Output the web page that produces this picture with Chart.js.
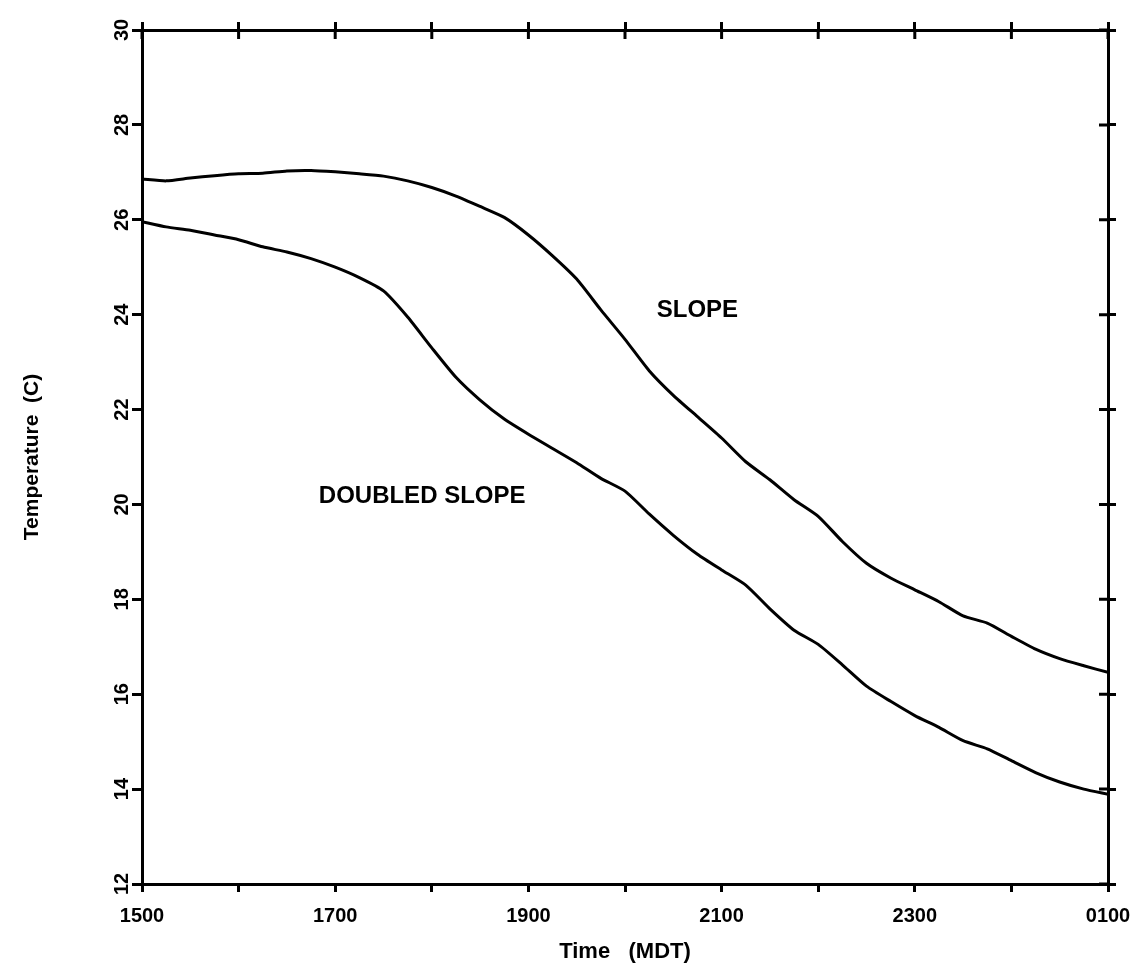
<!DOCTYPE html>
<html>
<head>
<meta charset="utf-8">
<script src="https://cdn.jsdelivr.net/npm/chart.js@4.4.1/dist/chart.umd.min.js"></script>
<style>
  html, body { margin: 0; padding: 0; background: #fff; }
  canvas { display: block; }
</style>
</head>
<body>
<canvas id="tempChart" width="1134" height="975"></canvas>
<script>
// time in hours after midnight of the first day (25 = 0100 next day)
const hours = [15, 15.25, 15.5, 15.75, 16, 16.25, 16.5, 16.75, 17, 17.25, 17.5, 17.75,
  18, 18.25, 18.5, 18.75, 19, 19.25, 19.5, 19.75, 20, 20.25, 20.5, 20.75,
  21, 21.25, 21.5, 21.75, 22, 22.25, 22.5, 22.75, 23, 23.25, 23.5, 23.75,
  24, 24.25, 24.5, 24.75, 25];

const slope = [26.86, 26.82, 26.88, 26.93, 26.97, 26.98, 27.03, 27.04, 27.01, 26.97, 26.92, 26.82,
  26.68, 26.5, 26.28, 26.05, 25.68, 25.24, 24.75, 24.1, 23.48, 22.82, 22.3, 21.85,
  21.4, 20.9, 20.52, 20.1, 19.75, 19.22, 18.76, 18.45, 18.2, 17.95, 17.65, 17.5,
  17.22, 16.95, 16.75, 16.6, 16.46];

const doubledSlope = [25.96, 25.85, 25.78, 25.68, 25.58, 25.43, 25.32, 25.18, 25.0, 24.78, 24.5, 23.95,
  23.3, 22.68, 22.2, 21.8, 21.48, 21.18, 20.88, 20.55, 20.28, 19.8, 19.35, 18.95,
  18.62, 18.3, 17.8, 17.35, 17.05, 16.62, 16.17, 15.85, 15.55, 15.3, 15.02, 14.85,
  14.6, 14.35, 14.15, 14.0, 13.89];

const xTickHours = [15, 17, 19, 21, 23, 25];
const xTickLabels = ['1500', '1700', '1900', '2100', '2300', '0100'];

// curve labels: [text, hour, temperature]
const curveLabels = [
  ['SLOPE', 20.75, 24.08],
  ['DOUBLED SLOPE', 17.9, 20.17],
];

const FONT = "'Liberation Sans', Arial, sans-serif";

function pts(ys) {
  return hours.map(function (h, i) { return { x: h, y: ys[i] }; });
}

// rotated y labels, inward ticks on top/right, curve names
const extras = {
  id: 'extras',
  afterDraw: function (chart) {
    const ctx = chart.ctx;
    const y = chart.scales.y;
    const x2 = chart.scales.x2;
    const y2 = chart.scales.y2;
    const area = chart.chartArea;
    ctx.save();
    ctx.fillStyle = '#000';
    ctx.font = 'bold 20px ' + FONT;
    ctx.textAlign = 'center';
    ctx.textBaseline = 'middle';
    y.ticks.forEach(function (t) {
      const py = y.getPixelForValue(t.value);
      ctx.save();
      ctx.translate(122, py);
      ctx.rotate(-Math.PI / 2);
      ctx.fillText(String(t.value), 0, 0);
      ctx.restore();
    });

    ctx.strokeStyle = '#000';
    ctx.lineWidth = 3;
    ctx.beginPath();
    x2.ticks.forEach(function (t) {
      const px = x2.getPixelForValue(t.value);
      ctx.moveTo(px, area.top);
      ctx.lineTo(px, area.top + 9);
    });
    y2.ticks.forEach(function (t) {
      const py = y2.getPixelForValue(t.value);
      ctx.moveTo(area.right, py);
      ctx.lineTo(area.right - 9, py);
    });
    ctx.stroke();

    const xs = chart.scales.x;
    ctx.font = 'bold 24px ' + FONT;
    curveLabels.forEach(function (c) {
      ctx.fillText(c[0], xs.getPixelForValue(c[1]), y.getPixelForValue(c[2]));
    });
    ctx.restore();
  }
};

const ctx = document.getElementById('tempChart').getContext('2d');
new Chart(ctx, {
  type: 'line',
  data: {
    datasets: [
      {
        label: 'SLOPE',
        data: pts(slope),
        borderColor: '#000',
        borderWidth: 3,
        pointRadius: 0,
        tension: 0.2,
        fill: false,
      },
      {
        label: 'DOUBLED SLOPE',
        data: pts(doubledSlope),
        borderColor: '#000',
        borderWidth: 3,
        pointRadius: 0,
        tension: 0.2,
        fill: false,
      },
    ],
  },
  options: {
    responsive: false,
    animation: false,
    layout: { padding: 0 },
    plugins: {
      legend: { display: false },
      tooltip: { enabled: false },
    },
    scales: {
      x: {
        type: 'linear',
        position: 'bottom',
        min: 15,
        max: 25,
        afterFit: function (s) {
          s.height = 91;
          s.paddingLeft = 0;
          s.paddingRight = 0;
        },
        border: { display: true, color: '#000', width: 3 },
        grid: { drawOnChartArea: false, color: '#000', lineWidth: 3, tickLength: 8 },
        ticks: {
          stepSize: 1,
          autoSkip: false,
          maxRotation: 0,
          padding: 12,
          color: '#000',
          font: { family: FONT, size: 20, weight: 'bold' },
          callback: function (v) {
            const i = xTickHours.indexOf(v);
            return i >= 0 ? xTickLabels[i] : '';
          },
        },
        title: {
          display: true,
          text: 'Time   (MDT)',
          color: '#000',
          font: { family: FONT, size: 22, weight: 'bold' },
          padding: { top: 0, bottom: 10 },
        },
      },
      x2: {
        type: 'linear',
        position: 'top',
        min: 15,
        max: 25,
        afterFit: function (s) {
          s.height = 30;
          s.paddingLeft = 0;
          s.paddingRight = 0;
        },
        border: { display: true, color: '#000', width: 3 },
        grid: { drawOnChartArea: false, color: '#000', lineWidth: 3, tickLength: 8 },
        ticks: { stepSize: 1, display: false },
      },
      y: {
        type: 'linear',
        position: 'left',
        min: 12,
        max: 30,
        afterFit: function (s) { s.width = 142; },
        border: { display: true, color: '#000', width: 3 },
        grid: { drawOnChartArea: false, color: '#000', lineWidth: 3, tickLength: 10 },
        ticks: { stepSize: 2, display: false },
        title: {
          display: true,
          text: 'Temperature  (C)',
          color: '#000',
          font: { family: FONT, size: 21, weight: 'bold' },
          padding: { top: 20, bottom: 0 },
        },
      },
      y2: {
        type: 'linear',
        position: 'right',
        min: 12,
        max: 30,
        afterFit: function (s) { s.width = 26; },
        border: { display: true, color: '#000', width: 3 },
        grid: { drawOnChartArea: false, color: '#000', lineWidth: 3, tickLength: 8 },
        ticks: { stepSize: 2, display: false },
      },
    },
  },
  plugins: [extras],
});
</script>
</body>
</html>
